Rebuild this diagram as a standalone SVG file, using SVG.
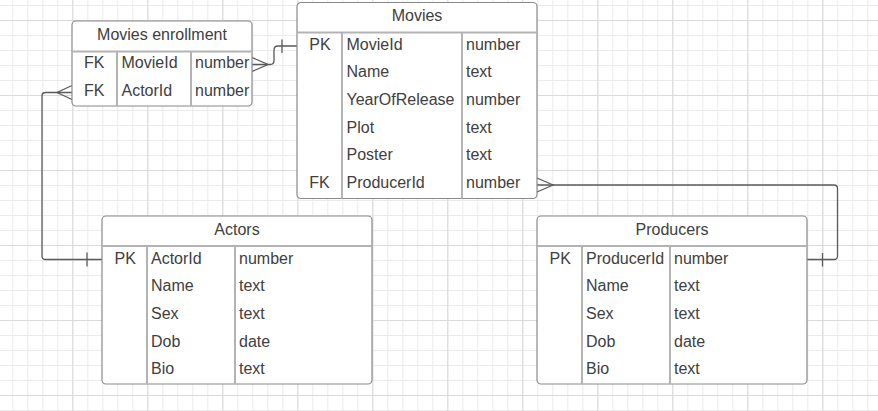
<svg xmlns="http://www.w3.org/2000/svg" width="878" height="411" viewBox="0 0 878 411">
<defs>
<pattern id="minor" patternUnits="userSpaceOnUse" x="12.3" y="5" width="15" height="15">
<path d="M0.5,0 V15 M0,0.5 H15" fill="none" stroke="#ebebeb" stroke-width="1"/>
</pattern>
<pattern id="major" patternUnits="userSpaceOnUse" x="-2.7" y="20" width="75" height="75">
<path d="M0.5,0 V75 M0,0.5 H75" fill="none" stroke="#d9d9d9" stroke-width="1"/>
</pattern>
<style>
.box{fill:#ffffff;stroke:#8a8a8a;stroke-width:1.2}
.div{stroke:#b3b3b3;stroke-width:2;fill:none}
.t{font-family:"Liberation Sans",Arial,sans-serif;font-size:16px;fill:#404040}
.title{text-anchor:middle}
.conn{fill:none;stroke:#5a5a5a;stroke-width:1.3}
</style>
</defs>
<rect width="878" height="411" fill="#ffffff"/>
<rect width="878" height="411" fill="url(#minor)"/>
<rect width="878" height="411" fill="url(#major)"/>

<g id="connectors" class="conn">
<path d="M252,64.5 L270,64.5 Q274,64.5 274,60.5 L274,50 Q274,46 278,46 L297,46"/>
<path d="M252,57.5 L268,64.5 L252,71.5"/>
<path d="M282,39.5 V53"/>
<path d="M72,92.5 L45.5,92.5 Q42,92.5 42,96 L42,256 Q42,259.5 45.5,259.5 L102,259.5"/>
<path d="M72,85.5 L57,92.5 L72,99.5"/>
<path d="M87,252.5 V266.5"/>
<path d="M537,185 L834,185 Q837.5,185 837.5,188.5 L837.5,256 Q837.5,259.5 834,259.5 L807,259.5"/>
<path d="M537,178 L553,185 L537,192"/>
<path d="M822.5,253 V266.5"/>
</g>

<g id="movies-enrollment">
<rect class="box" x="72" y="21" width="180" height="85" rx="4"/>
<path class="div" d="M72,51.5 H252 M117,51.5 V106 M191,51.5 V106"/>
<text class="t title" x="162" y="39.5">Movies enrollment</text>
<text class="t" x="84" y="68">FK</text>
<text class="t" x="121.5" y="68">MovieId</text>
<text class="t" x="195" y="68">number</text>
<text class="t" x="84" y="96">FK</text>
<text class="t" x="121.5" y="96">ActorId</text>
<text class="t" x="195" y="96">number</text>
</g>

<g id="movies">
<rect class="box" x="297" y="2.5" width="240" height="196" rx="4"/>
<path class="div" d="M297,32.5 H537 M342,32.5 V198.5 M462,32.5 V198.5"/>
<text class="t title" x="417" y="21">Movies</text>
<text class="t" x="309.3" y="49.5">PK</text>
<text class="t" x="346.5" y="49.5">MovieId</text>
<text class="t" x="466" y="49.5">number</text>
<text class="t" x="346.5" y="77.3">Name</text>
<text class="t" x="466" y="77.3">text</text>
<text class="t" x="346.5" y="105">YearOfRelease</text>
<text class="t" x="466" y="105">number</text>
<text class="t" x="346.5" y="132.7">Plot</text>
<text class="t" x="466" y="132.7">text</text>
<text class="t" x="346.5" y="160.3">Poster</text>
<text class="t" x="466" y="160.3">text</text>
<text class="t" x="309.3" y="188">FK</text>
<text class="t" x="346.5" y="188">ProducerId</text>
<text class="t" x="466" y="188">number</text>
</g>

<g id="actors">
<rect class="box" x="102" y="216" width="270" height="168" rx="4"/>
<path class="div" d="M102,246 H372 M147,246 V384 M235,246 V384"/>
<text class="t title" x="237" y="234.5">Actors</text>
<text class="t" x="114.5" y="263.5">PK</text>
<text class="t" x="151" y="263.5">ActorId</text>
<text class="t" x="239" y="263.5">number</text>
<text class="t" x="151" y="291.2">Name</text>
<text class="t" x="239" y="291.2">text</text>
<text class="t" x="151" y="318.9">Sex</text>
<text class="t" x="239" y="318.9">text</text>
<text class="t" x="151" y="346.6">Dob</text>
<text class="t" x="239" y="346.6">date</text>
<text class="t" x="151" y="374.3">Bio</text>
<text class="t" x="239" y="374.3">text</text>
</g>

<g id="producers">
<rect class="box" x="537" y="216" width="270" height="168" rx="4"/>
<path class="div" d="M537,246 H807 M582,246 V384 M670,246 V384"/>
<text class="t title" x="672" y="234.5">Producers</text>
<text class="t" x="549.5" y="263.5">PK</text>
<text class="t" x="586" y="263.5">ProducerId</text>
<text class="t" x="674" y="263.5">number</text>
<text class="t" x="586" y="291.2">Name</text>
<text class="t" x="674" y="291.2">text</text>
<text class="t" x="586" y="318.9">Sex</text>
<text class="t" x="674" y="318.9">text</text>
<text class="t" x="586" y="346.6">Dob</text>
<text class="t" x="674" y="346.6">date</text>
<text class="t" x="586" y="374.3">Bio</text>
<text class="t" x="674" y="374.3">text</text>
</g>
</svg>
